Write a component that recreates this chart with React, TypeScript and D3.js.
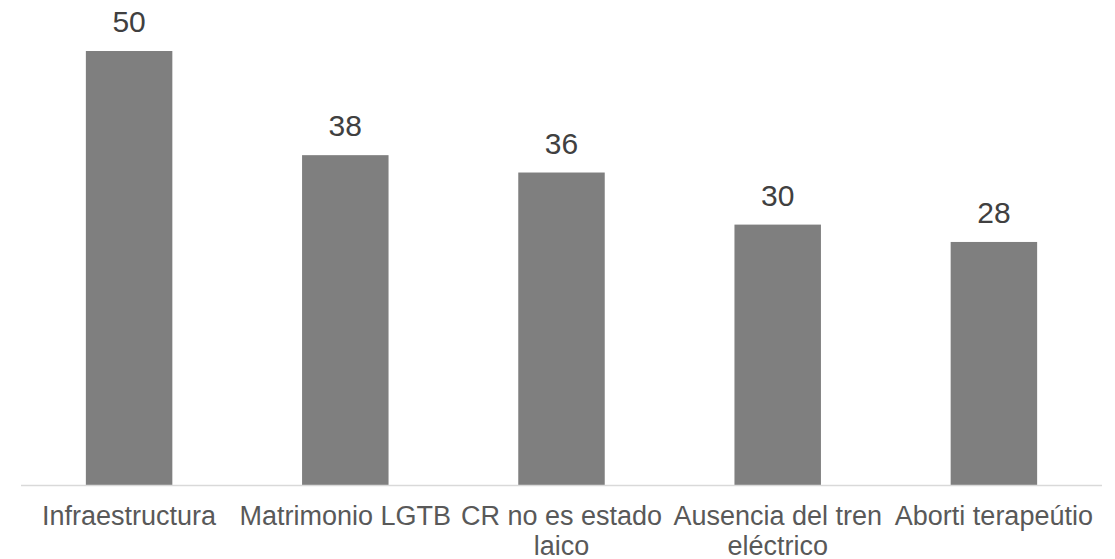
import React, { useEffect, useRef } from "react";
import * as d3 from "d3";

const categories: string[] = [
  "Infraestructura",
  "Matrimonio LGTB",
  "CR no es estado laico",
  "Ausencia del tren eléctrico",
  "Aborti terapeútio",
];
const values: number[] = [50, 38, 36, 30, 28];
const yDomain: [number, number] = [0, 50];

const W = 1115;
const H = 559;
const FONT = "'Liberation Sans', Arial, sans-serif";

export default function App() {
  const ref = useRef<SVGSVGElement | null>(null);

  useEffect(() => {
    const svg = d3.select(ref.current);
    svg.selectAll("*").remove();

    const x = d3.scaleBand<string>().domain(categories).range([21, 1102]).paddingInner(0.6).paddingOuter(0.3);
    const y = d3.scaleLinear().domain(yDomain).range([485, 51]);

    const data = categories.map((c, i) => ({ c, v: values[i] }));

    svg
      .append("g")
      .selectAll("rect")
      .data(data)
      .join("rect")
      .attr("x", (d) => x(d.c)!)
      .attr("y", (d) => y(d.v))
      .attr("width", x.bandwidth())
      .attr("height", (d) => y(0) - y(d.v))
      .attr("fill", "#7f7f7f");

    svg
      .append("line")
      .attr("x1", 21)
      .attr("x2", 1102)
      .attr("y1", y(0) + 0.5)
      .attr("y2", y(0) + 0.5)
      .attr("stroke", "#d9d9d9")
      .attr("stroke-width", 1.5);

    svg
      .append("g")
      .selectAll("text")
      .data(data)
      .join("text")
      .attr("x", (d) => x(d.c)! + x.bandwidth() / 2)
      .attr("y", (d) => y(d.v) - 19)
      .attr("text-anchor", "middle")
      .attr("font-family", FONT)
      .attr("font-size", 30)
      .attr("fill", "#404040")
      .text((d) => String(d.v));

    const step = x.step();
    const maxW = step * 1.08;
    const labels = svg.append("g");
    data.forEach((d) => {
      const cx = x(d.c)! + x.bandwidth() / 2;
      const t = labels
        .append("text")
        .attr("x", cx)
        .attr("y", y(0) + 40)
        .attr("text-anchor", "middle")
        .attr("font-family", FONT)
        .attr("font-size", 27)
        .attr("fill", "#595959");
      const words = d.c.split(" ");
      let line: string[] = [];
      let tspan = t.append("tspan").attr("x", cx).attr("dy", 0);
      words.forEach((w) => {
        line.push(w);
        tspan.text(line.join(" "));
        if ((tspan.node() as SVGTSpanElement).getComputedTextLength() > maxW && line.length > 1) {
          line.pop();
          tspan.text(line.join(" "));
          line = [w];
          tspan = t.append("tspan").attr("x", cx).attr("dy", 30).text(w);
        }
      });
    });
  }, []);

  return (
    <svg
      ref={ref}
      width={W}
      height={H}
      style={{ position: "absolute", left: 0, top: 0, background: "#fff" }}
    />
  );
}
